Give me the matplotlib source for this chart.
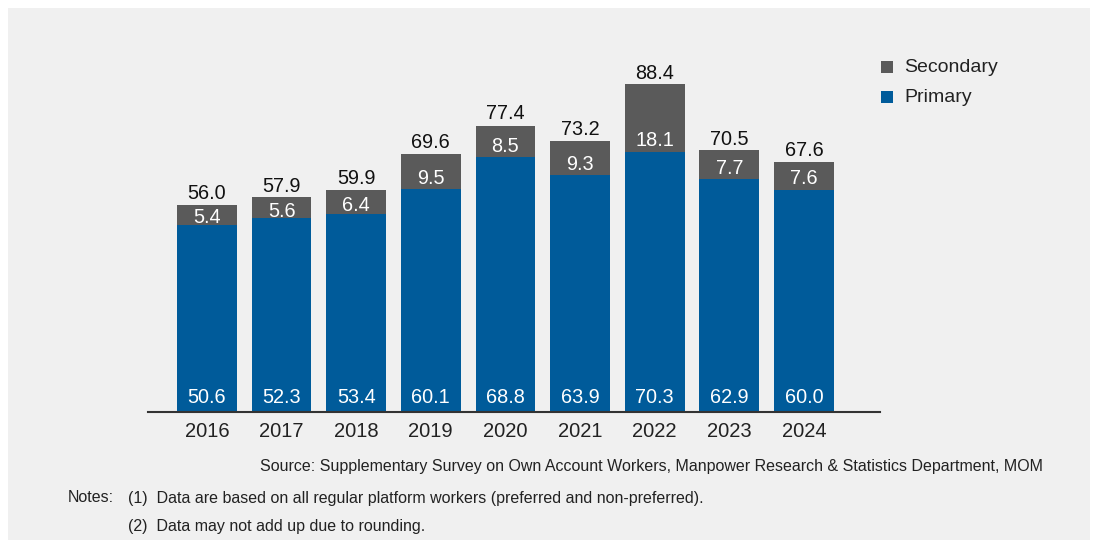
import matplotlib.pyplot as plt
import numpy as np
from matplotlib.patches import Rectangle

plt.rcParams['font.family'] = ['Liberation Sans', 'DejaVu Sans']

years = ['2016', '2017', '2018', '2019', '2020', '2021', '2022', '2023', '2024']
primary = [50.6, 52.3, 53.4, 60.1, 68.8, 63.9, 70.3, 62.9, 60.0]
secondary = [5.4, 5.6, 6.4, 9.5, 8.5, 9.3, 18.1, 7.7, 7.6]
totals = [56.0, 57.9, 59.9, 69.6, 77.4, 73.2, 88.4, 70.5, 67.6]

blue = '#005b9a'
grey = '#5a5a5a'
bg = '#f0f0f0'

fig = plt.figure(figsize=(10.96, 5.46), dpi=100)
fig.patch.set_facecolor('white')
fig.patches.append(Rectangle((8/1096, 6/546), 1082/1096, 532/546,
                             transform=fig.transFigure, facecolor=bg,
                             edgecolor='none', zorder=-5))

ax = fig.add_axes([148/1096, 134/546, 732/1096, 352/546])
ax.set_facecolor('none')

x = np.arange(len(years))
w = 0.8
ax.bar(x, primary, w, color=blue, zorder=2)
ax.bar(x, secondary, w, bottom=primary, color=grey, zorder=2)

fs = 14.3
for i in range(len(years)):
    ax.text(x[i], 2.4, f'{primary[i]:.1f}', ha='center', va='baseline',
            color='white', fontsize=fs, zorder=3)
    # secondary label sits low in the grey segment
    mid = primary[i] + min(secondary[i] / 2 - 0.5, 3.4)
    ax.text(x[i], mid - 1.9, f'{secondary[i]:.1f}', ha='center',
            va='baseline', color='white', fontsize=fs, zorder=3)
    ax.text(x[i], totals[i] + 1.6, f'{totals[i]:.1f}', ha='center',
            va='baseline', color='#111111', fontsize=fs, zorder=3)

ax.set_xlim(-0.79, 9.02)
ax.set_ylim(0, 95)
ax.set_xticks(x)
ax.set_xticklabels(years, fontsize=14.5, color='#222222')
ax.tick_params(axis='x', length=0, pad=7)
ax.set_yticks([])
for s in ['top', 'right', 'left']:
    ax.spines[s].set_visible(False)
ax.spines['bottom'].set_color('#333333')
ax.spines['bottom'].set_linewidth(1.5)
ax.spines['bottom'].set_zorder(4)

# legend
for yy, c, lab in [(67, grey, 'Secondary'), (97, blue, 'Primary')]:
    fig.patches.append(Rectangle((881/1096, (546 - yy - 6)/546), 12/1096, 12/546,
                                 transform=fig.transFigure, facecolor=c,
                                 edgecolor='none'))
    fig.text(904/1096, (546 - yy)/546, lab, fontsize=14, va='center',
             color='#222222')

fig.text(1043/1096, (546 - 467)/546,
         'Source: Supplementary Survey on Own Account Workers, Manpower Research & Statistics Department, MOM',
         ha='right', va='center', fontsize=11.5, color='#222222')
fig.text(68/1096, (546 - 498)/546, 'Notes:', ha='left', va='center',
         fontsize=11.5, color='#222222')
fig.text(128/1096, (546 - 498)/546,
         '(1)  Data are based on all regular platform workers (preferred and non-preferred).',
         ha='left', va='center', fontsize=11.5, color='#222222')
fig.text(128/1096, (546 - 527)/546, '(2)  Data may not add up due to rounding.',
         ha='left', va='center', fontsize=11.5, color='#222222')

fig.savefig('out.png', dpi=100, facecolor=fig.get_facecolor())
